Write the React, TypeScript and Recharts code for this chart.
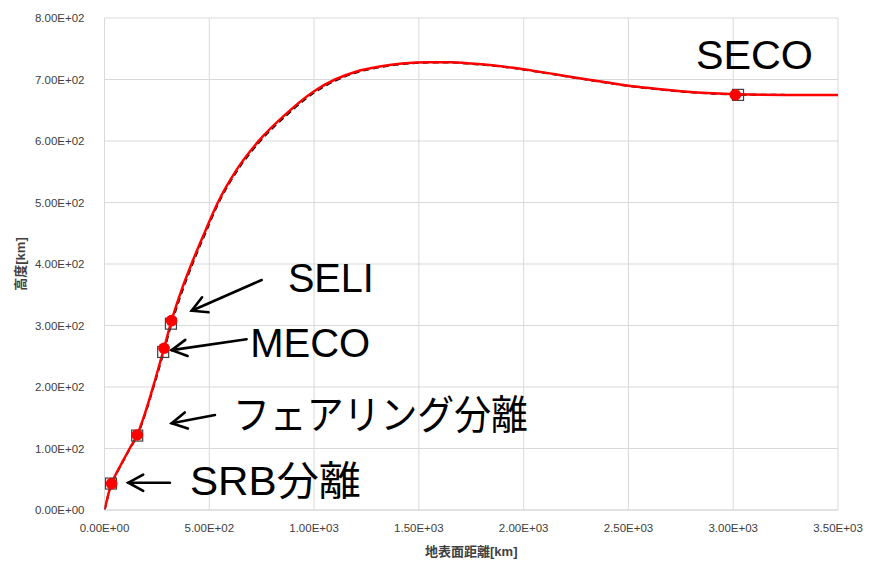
import React from "react";
import {
  ComposedChart,
  Line,
  Scatter,
  XAxis,
  YAxis,
  CartesianGrid,
  ReferenceLine,
  ReferenceDot,
} from "recharts";

// trajectory: ground distance [km] vs altitude [km]
const distance = [0, 10, 20, 34, 60, 90, 120, 156, 193, 241, 284, 320, 370, 422, 480, 538, 630, 738, 869, 1000, 1100, 1203, 1314, 1420, 1550, 1650, 1750, 1850, 1950, 2050, 2150, 2250, 2400, 2500, 2600, 2750, 2900, 3010, 3250, 3500];
const altitudeA = [0, 14, 28, 43, 62, 81, 100, 122, 157, 211, 263, 308, 360, 406, 453, 498, 553, 601, 645, 681, 700, 713, 721, 726, 728.2, 728, 726, 723, 719, 714, 708.5, 703, 695, 690, 686, 681, 677.5, 676, 675, 675];
const altitudeB = [0, 13, 27, 42, 61, 80, 99, 121, 155, 208, 259, 303, 355, 402, 449, 495, 550, 598, 642, 678.5, 698, 711.5, 720, 725, 727.5, 727.5, 725.5, 722.5, 718.5, 713.5, 708, 702.5, 694.5, 689.5, 685.5, 680.5, 677, 675.5, 675, 675];

// events
const eventNames = ["SRB分離", "フェアリング分離", "MECO", "SELI", "SECO"];
const eventXA = [34, 156, 284, 320, 3010];
const eventYA = [43, 122, 263, 308, 675];
const eventXB = [31, 156, 280, 317, 3023];
const eventYB = [43, 121, 257, 303, 675];

const xTicks = [0, 500, 1000, 1500, 2000, 2500, 3000, 3500];
const yTicks = [0, 100, 200, 300, 400, 500, 600, 700, 800];

const lineA = distance.map((d, i) => ({ x: d, y: altitudeA[i] }));
const lineB = distance.map((d, i) => ({ x: d, y: altitudeB[i] }));
const pointsA = eventXA.map((d, i) => ({ x: d, y: eventYA[i], name: eventNames[i] }));
const pointsB = eventXB.map((d, i) => ({ x: d, y: eventYB[i], name: eventNames[i] }));

// annotation arrows (tail -> tip) and text anchors, in data units
const arrows = [
  { from: [312, 44.4], to: [113.5, 44.4] },
  { from: [527, 154.5], to: [320.5, 141] },
  { from: [678, 277.6], to: [320.5, 260] },
  { from: [750, 374], to: [416, 324] },
];
const labelX = [408, 613, 695, 875, 2822];
const labelY = [24.4, 132.5, 248.3, 355, 716.6];
const labelWidth = [171, 295, 120, 86, 117];

const fmt = (v: number) => {
  const [m, e] = v.toExponential(2).split("e");
  return `${m}E${e[0]}${e.slice(1).padStart(2, "0")}`;
};

const FONT = "'Liberation Sans', Arial, 'Noto Sans CJK JP', sans-serif";

const Arrow = (props: any) => {
  const { x1, y1, x2, y2 } = props;
  const ang = Math.atan2(y2 - y1, x2 - x1);
  const len = 17;
  const spread = 0.5;
  const ax = x2 - len * Math.cos(ang - spread);
  const ay = y2 - len * Math.sin(ang - spread);
  const bx = x2 - len * Math.cos(ang + spread);
  const by = y2 - len * Math.sin(ang + spread);
  return (
    <g stroke="#000" strokeWidth={2.6} fill="none" strokeLinecap="round">
      <line x1={x1} y1={y1} x2={x2} y2={y2} />
      <polyline points={`${ax},${ay} ${x2},${y2} ${bx},${by}`} />
    </g>
  );
};

const makeText = (i: number) => (props: any) => (
  <text
    x={props.cx}
    y={props.cy}
    fontFamily={FONT}
    fontSize={40}
    fill="#000"
    textLength={labelWidth[i]}
    lengthAdjust="spacingAndGlyphs"
  >
    {eventNames[i]}
  </text>
);

const RedDot = (props: any) => (
  <circle cx={props.cx} cy={props.cy} r={5.8} fill="#ff0000" />
);

const Square = (props: any) => (
  <rect x={props.cx - 5.5} y={props.cy - 5.5} width={11} height={11} fill="none" stroke="#404040" strokeWidth={1.2} />
);

const XTitle = (props: any) => {
  const { viewBox } = props;
  return (
    <text x={viewBox.x + viewBox.width / 2} y={556} textAnchor="middle" fontFamily={FONT} fontSize={13} fontWeight="bold" fill="#404040">
      地表面距離[km]
    </text>
  );
};

const YTitle = () => (
  <text x={0} y={0} transform="translate(25,264) rotate(-90)" textAnchor="middle" fontFamily={FONT} fontSize={13} fontWeight="bold" fill="#404040">
    高度[km]
  </text>
);

export default function App() {
  return (
    <div style={{ position: "absolute", left: 0, top: 0, width: 870, height: 561, background: "#fff" }}>
      <ComposedChart width={870} height={561} margin={{ top: 18, right: 32, bottom: 0, left: 0.5 }}>
        <CartesianGrid stroke="#d9d9d9" strokeWidth={1} />
        <XAxis
          type="number"
          dataKey="x"
          domain={[0, 3500]}
          ticks={xTicks}
          tickFormatter={fmt}
          height={51}
          axisLine={{ stroke: "#d9d9d9" }}
          tickLine={false}
          tick={{ fontSize: 11.5, fill: "#404040", fontFamily: FONT }}
          tickMargin={8}
          allowDataOverflow
          label={<XTitle />}
        />
        <YAxis
          type="number"
          dataKey="y"
          domain={[0, 800]}
          ticks={yTicks}
          tickFormatter={fmt}
          width={104}
          axisLine={false}
          tickLine={false}
          tick={{ fontSize: 11.5, fill: "#404040", fontFamily: FONT }}
          tickMargin={14}
          allowDataOverflow
          label={<YTitle />}
        />
        <Line
          data={lineB}
          dataKey="y"
          type="monotone"
          stroke="#000"
          strokeWidth={2}
          strokeDasharray="6 4"
          dot={false}
          activeDot={false}
          isAnimationActive={false}
        />
        <Line
          data={lineA}
          dataKey="y"
          type="monotone"
          stroke="#ff0000"
          strokeWidth={2.5}
          dot={false}
          activeDot={false}
          isAnimationActive={false}
        />
        <Scatter data={pointsB} dataKey="y" shape={<Square />} isAnimationActive={false} />
        <Scatter data={pointsA} dataKey="y" shape={<RedDot />} isAnimationActive={false} />
        {arrows.map((a, i) => (
          <ReferenceLine
            key={`arrow-${i}`}
            segment={[
              { x: a.from[0], y: a.from[1] },
              { x: a.to[0], y: a.to[1] },
            ]}
            ifOverflow="visible"
            shape={<Arrow />}
          />
        ))}
        {labelX.map((lx, i) => (
          <ReferenceDot
            key={`label-${i}`}
            x={lx}
            y={labelY[i]}
            r={0}
            ifOverflow="visible"
            shape={makeText(i)}
          />
        ))}
      </ComposedChart>
    </div>
  );
}
